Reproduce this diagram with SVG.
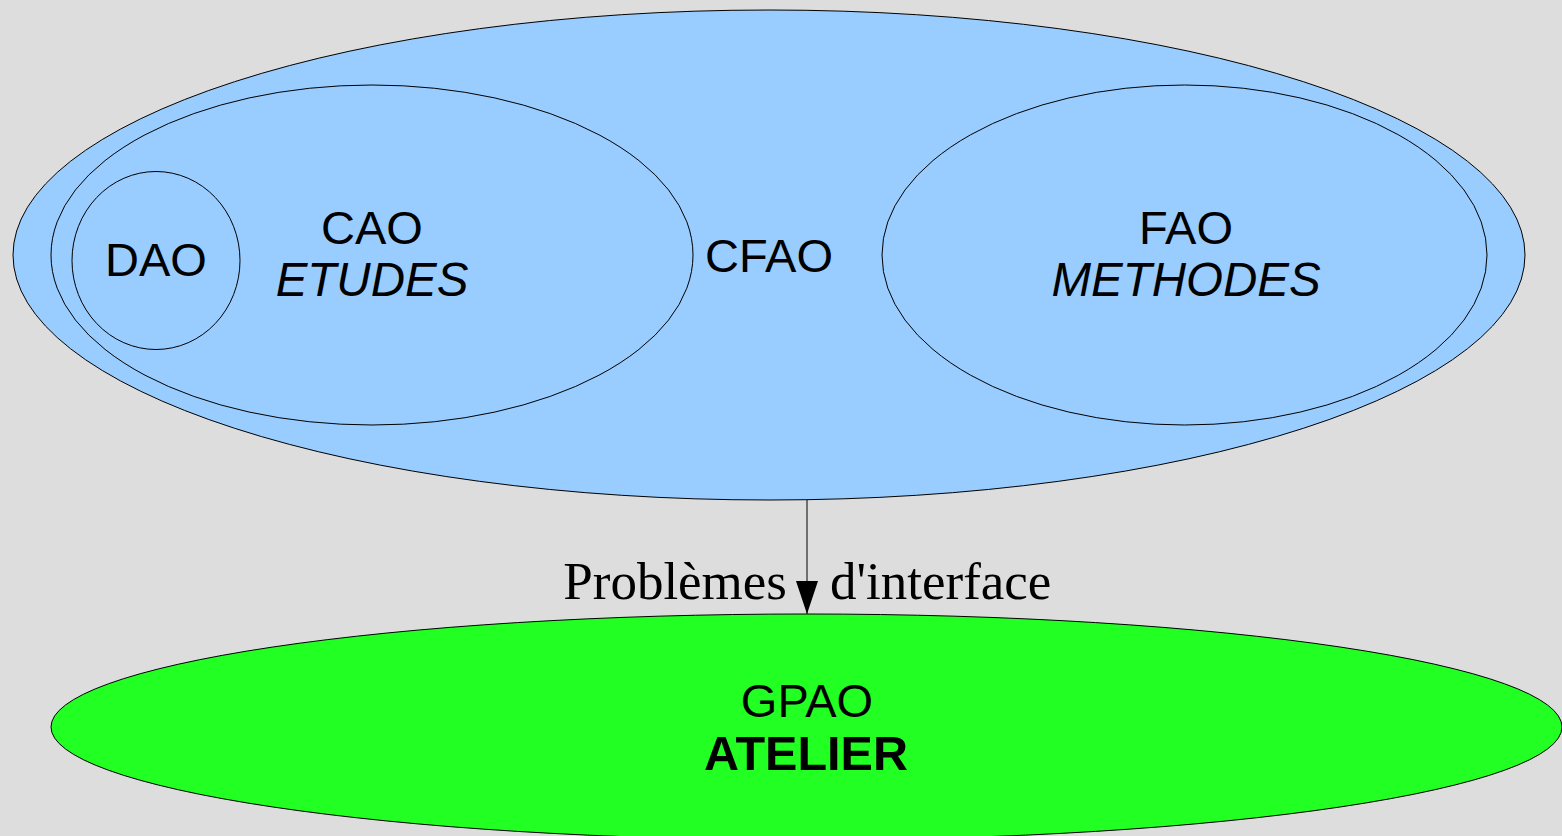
<svg xmlns="http://www.w3.org/2000/svg" width="1562" height="836" viewBox="0 0 1562 836">
<style>
.blue{fill:#99ccff;stroke:#000;stroke-width:1}
.green{fill:#22ff22;stroke:#000;stroke-width:1}
.lbl{font-family:"Liberation Sans",Arial,sans-serif;font-size:47px;fill:#000;text-anchor:middle}
.it{font-style:italic;font-size:47.5px}
.bd{font-weight:bold;font-size:48.5px}
.edge{font-family:"Liberation Serif","Times New Roman",serif;font-size:53px;fill:#000}
</style>
<defs>
<marker id="arr" markerWidth="33" markerHeight="22" refX="33" refY="11" orient="auto" markerUnits="userSpaceOnUse" viewBox="0 0 33 22">
<path d="M0,0 L33,11 L0,22 Z" fill="#000"/>
</marker>
</defs>
<rect width="1562" height="836" fill="#dddddd"/>
<g id="CFAO">
<ellipse class="blue" cx="769" cy="255" rx="756" ry="245"/>
<text class="lbl" x="769" y="272">CFAO</text>
</g>
<g id="CAO">
<ellipse class="blue" cx="372" cy="255" rx="321" ry="170"/>
<text class="lbl" x="372" y="244">CAO</text>
<text class="lbl it" x="372" y="296">ETUDES</text>
</g>
<g id="DAO">
<ellipse class="blue" cx="156" cy="260.5" rx="84" ry="89"/>
<text class="lbl" x="156" y="276">DAO</text>
</g>
<g id="FAO">
<ellipse class="blue" cx="1184.5" cy="255" rx="302.5" ry="170"/>
<text class="lbl" x="1186" y="244">FAO</text>
<text class="lbl it" x="1186" y="296">METHODES</text>
</g>
<g id="GPAO">
<ellipse class="green" cx="806.5" cy="727" rx="755.5" ry="113"/>
<text class="lbl" x="807" y="717">GPAO</text>
<text class="lbl bd" x="806" y="770">ATELIER</text>
</g>
<g id="connectors">
<line x1="807" y1="500" x2="807" y2="614" stroke="#000" stroke-width="1" marker-end="url(#arr)"/>
<text class="edge" y="599"><tspan x="787" text-anchor="end">Problèmes</tspan><tspan x="830" text-anchor="start">d'interface</tspan></text>
</g>
</svg>
